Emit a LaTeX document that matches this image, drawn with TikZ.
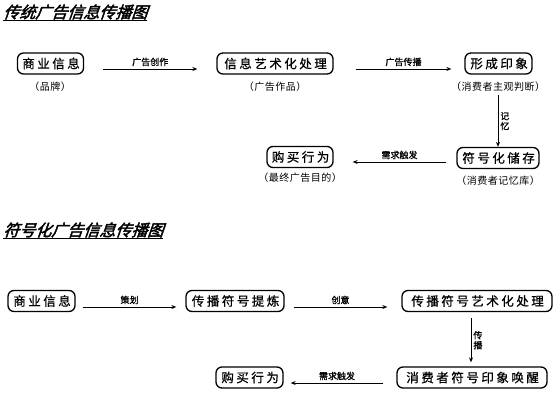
\documentclass[tikz,border=0pt]{standalone}
\usepackage{fontspec}
\usetikzlibrary{arrows.meta}
\newfontfamily\boxfont[LetterSpace=20,FakeBold=0.6]{Noto Sans CJK SC}
\newfontfamily\subfont[LetterSpace=5]{Noto Sans CJK SC}
\newfontfamily\lblfont[FakeBold=1.2]{Noto Sans CJK SC}
\newfontfamily\ttlfont[FakeSlant=0.35,FakeBold=2.5]{Noto Sans CJK SC}
\tikzset{
  box/.style={draw, line width=1.3pt, rounded corners=6pt, minimum height=21pt, inner sep=0pt, font=\boxfont\fontsize{12.5}{13}\selectfont},
  sub/.style={inner sep=0pt, font=\subfont\fontsize{10}{10}\selectfont},
  lbl/.style={inner sep=0pt, font=\lblfont\fontsize{9}{10}\selectfont},
  ttl/.style={inner sep=0pt, anchor=west, font=\ttlfont\fontsize{16}{16}\selectfont},
  arr/.style={line width=0.8pt, -{Stealth[length=5pt,width=4pt]}},
  uline/.style={line width=1pt}
}
\begin{document}
\begin{tikzpicture}[x=1pt,y=-1pt]
\useasboundingbox (0,0) rectangle (557,411);
% title 1
\node[ttl] (T1) at (3,12) {传统广告信息传播图};
\draw[uline] ([yshift=-1pt]T1.south west) -- ([yshift=-1pt]T1.south east);
% row 1
\node[box, minimum width=66pt] (A1) at (50.5,63.5) {\hspace*{1.2pt}商业信息};
\node[sub] (A1s) at (50,86.5) {（品牌）};
\node[box, minimum width=116pt] (A2) at (275,63.5) {\hspace*{1.2pt}信息艺术化处理};
\node[sub] (A2s) at (275,86.5) {（广告作品）};
\node[box, minimum width=67pt] (A3) at (498.5,63.5) {\hspace*{1.2pt}形成印象};
\node[sub] (A3s) at (498,86.5) {（消费者主观判断）};
\node[box, minimum width=82pt] (A4) at (498,158) {\hspace*{1.2pt}符号化储存};
\node[sub] (A4s) at (498,181) {（消费者记忆库）};
\node[box, minimum width=66pt] (A5) at (300,157) {\hspace*{1.2pt}购买行为};
\node[sub] (A5s) at (300,178) {（最终广告目的）};

\draw[arr] ([xshift=19pt,yshift=-5.5pt]A1.east) -- node[lbl, above=2.5pt] {广告创作} ([xshift=-19pt,yshift=-5.5pt]A2.west);
\draw[arr] ([xshift=22pt,yshift=-5.5pt]A2.east) -- node[lbl, above=2.5pt] {广告传播} ([xshift=-13pt,yshift=-5.5pt]A3.west);
\draw[arr] ([yshift=-4pt]A3s.south) -- node[lbl, right=2pt, align=center] {记\\忆} (A4.north);
\draw[arr] ([xshift=-10pt,yshift=-4pt]A4.west) -- node[lbl, above=2.5pt] {需求触发} ([xshift=19pt,yshift=-5pt]A5.east);

% title 2
\node[ttl] (T2) at (3,230) {符号化广告信息传播图};
\draw[uline] ([yshift=-1pt]T2.south west) -- ([yshift=-1pt]T2.south east);
% row 2
\node[box, minimum width=67pt] (B1) at (41.5,301) {\hspace*{1.2pt}商业信息};
\node[box, minimum width=98pt] (B2) at (235,301) {\hspace*{1.2pt}传播符号提炼};
\node[box, minimum width=150pt] (B3) at (477,301) {\hspace*{1.2pt}传播符号艺术化处理};
\node[box, minimum width=150pt] (B4) at (472,377.5) {\hspace*{1.2pt}消费者符号印象唤醒};
\node[box, minimum width=67pt] (B5) at (249.5,377.5) {\hspace*{1.2pt}购买行为};

\draw[arr] ([xshift=7pt,yshift=-6pt]B1.east) -- node[lbl, above=2.5pt] {策划} ([xshift=-9pt,yshift=-6pt]B2.west);
\draw[arr] ([xshift=9pt,yshift=-6pt]B2.east) -- node[lbl, above=2.5pt] {创意} ([xshift=-14pt,yshift=-6pt]B3.west);
\draw[arr] ([xshift=-6pt,yshift=-6pt]B3.south) -- node[lbl, right=2pt, align=center] {传\\播} ([xshift=-1pt,yshift=4pt]B4.north);
\draw[arr] ([xshift=-13pt,yshift=-5.5pt]B4.west) -- node[lbl, above=2.5pt] {需求触发} ([xshift=7pt,yshift=-5.5pt]B5.east);
\end{tikzpicture}
\end{document}
